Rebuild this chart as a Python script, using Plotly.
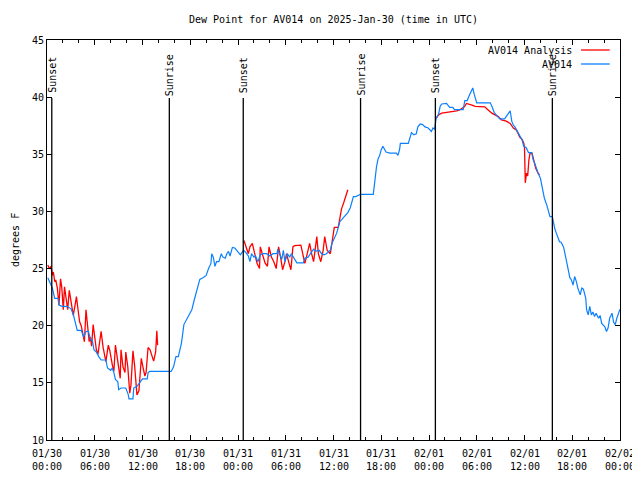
import pandas as pd
import plotly.graph_objects as go

BASE = pd.Timestamp("2025-01-30 00:00")

# AV014 observed (hours after 01/30 00:00 UTC, degrees F)
blue_hours = [0.1, 0.45, 0.67, 0.97, 1.4, 1.5, 1.9, 2.5, 3.0, 3.3, 3.5, 3.8, 4.3, 4.6, 4.9, 5.2, 5.5, 5.7, 5.9, 6.2,
              6.5, 6.8, 7.4, 7.6, 8.0, 8.2, 8.4, 8.6, 8.9, 9.0, 9.3, 9.9, 10.2, 10.3, 10.8, 10.9, 11.3, 11.6, 12.0, 12.6,
              12.7, 12.9, 15.6, 15.9, 16.2, 16.5, 16.9, 17.2, 17.5, 18.0, 18.2, 18.5, 18.8, 19.2, 19.6, 20.0, 20.3, 20.6, 20.7, 20.9,
              21.1, 21.3, 21.6, 21.9, 22.1, 22.4, 22.6, 22.8, 23.0, 23.3, 23.6, 24.0, 24.3, 24.7, 25.0, 25.3, 25.5, 25.7, 26.0, 26.2,
              26.5, 26.8, 27.1, 27.6, 28.0, 28.4, 28.9, 29.0, 29.2, 29.5, 29.7, 29.9, 30.2, 30.5, 30.7, 31.0, 31.4, 32.2, 32.4, 32.8,
              33.3, 33.5, 33.8, 34.2, 34.5, 34.8, 35.1, 35.6, 35.8, 36.1, 36.4, 36.6, 36.8, 37.3, 37.8, 38.1, 38.5, 38.8, 39.4, 41.0,
              41.2, 41.4, 41.6, 41.8, 42.0, 42.2, 42.6, 43.1, 43.9, 44.1, 44.3, 44.4, 45.4, 45.6, 45.8, 46.1, 46.4, 46.6, 46.9, 47.2,
              47.5, 47.9, 48.3, 48.5, 48.7, 48.9, 49.2, 49.4, 49.6, 50.2, 50.6, 51.0, 51.2, 51.9, 52.3, 52.5, 52.8, 53.1, 53.5, 53.7,
              54.0, 54.6, 55.2, 55.7, 55.9, 56.2, 56.5, 56.9, 57.5, 58.0, 58.2, 58.4, 58.6, 58.8, 59.0, 59.3, 59.5, 59.7, 59.9, 60.2,
              60.5, 60.9, 61.1, 61.3, 61.5, 61.7, 62.0, 62.2, 62.3, 62.5, 62.8, 63.0, 63.2, 63.5, 63.6, 63.8, 64.0, 64.2, 64.4, 64.6,
              64.9, 65.0, 65.2, 65.4, 65.5, 65.7, 65.9, 66.1, 66.3, 66.5, 66.7, 67.0, 67.2, 67.4, 67.7, 67.8, 68.0, 68.2, 68.4, 68.6,
              68.8, 69.0, 69.3, 69.5, 69.7, 70.1, 70.3, 70.5, 70.7, 71.0, 71.2, 71.4, 71.6, 71.8, 72.0]
blue_values = [24.2, 23.6, 23.3, 22.4, 22.4, 21.8, 21.7, 21.7, 21.5, 21.0, 20.5, 19.6, 19.6, 19.0, 19.5, 19.5, 18.75, 18.7, 17.9, 17.7,
               17.3, 17.0, 17.0, 16.3, 16.1, 16.3, 15.9, 15.3, 15.1, 14.4, 14.55, 14.55, 14.0, 13.6, 13.6, 14.55, 14.7, 15.0, 15.35, 15.35,
               15.9, 16.0, 16.0, 16.4, 17.3, 17.3, 18.5, 20.1, 20.5, 21.1, 21.4, 22.25, 23.1, 24.05, 24.2, 24.4, 25.0, 25.45, 26.3, 26.0,
               25.2, 25.6, 25.6, 26.3, 26.0, 25.9, 26.3, 26.5, 26.1, 26.85, 26.8, 26.5, 26.2, 26.6, 26.4, 26.1, 25.6, 26.3, 26.0, 26.1,
               25.6, 26.2, 26.3, 26.3, 26.1, 26.3, 26.3, 26.7, 26.3, 25.8, 26.6, 25.6, 26.3, 26.0, 26.3, 25.9, 25.5, 25.5, 25.9, 26.0,
               26.5, 26.7, 26.5, 26.6, 26.3, 26.2, 26.3, 26.6, 27.2, 27.65, 28.1, 28.6, 29.1, 29.5, 29.9, 30.3, 31.3, 31.3, 31.5, 31.5,
               32.75, 33.9, 34.6, 34.9, 35.4, 35.7, 35.2, 35.1, 35.1, 34.9, 35.4, 35.95, 35.95, 36.55, 36.9, 36.7, 36.8, 37.4, 37.65, 37.6,
               37.4, 37.3, 37.0, 37.3, 37.2, 38.15, 38.5, 39.2, 39.4, 39.45, 39.1, 39.1, 38.9, 38.9, 38.9, 39.7, 39.7, 40.2, 40.8, 40.2,
               39.5, 39.5, 39.5, 39.5, 39.2, 38.65, 38.4, 38.1, 38.1, 38.6, 38.8, 37.9, 37.55, 37.4, 37.1, 36.7, 36.5, 36.25, 35.7, 35.6,
               35.15, 35.15, 34.5, 34.2, 33.7, 33.35, 32.9, 32.2, 31.6, 31.15, 30.55, 30.0, 29.55, 29.55, 29.1, 28.5, 28.1, 27.8, 27.35, 27.3,
               26.9, 26.6, 25.9, 25.3, 24.9, 24.2, 24.0, 23.55, 24.3, 23.9, 23.3, 22.7, 23.3, 23.2, 22.4, 21.4, 20.95, 21.7, 20.95, 21.2,
               20.8, 21.1, 20.65, 20.9, 20.2, 19.9, 19.5, 19.8, 20.65, 21.1, 20.3, 20.1, 20.65, 21.1, 21.45]

# AV014 Analysis (None = gap)
red_hours = [0.1, 0.3, 0.5, 0.67, 0.8, 0.97, 1.1, 1.3, 1.5, 1.7, 1.85, 2.05, 2.2, 2.4, 2.6, 2.8, 3.05, 3.3, 3.5, 3.7,
             3.9, 4.1, 4.3, 4.6, 4.7, 4.9, 5.1, 5.3, 5.45, 5.6, 5.8, 6.0, 6.2, 6.4, 6.8, 7.05, 7.4, 7.7, 7.9, 8.2,
             8.4, 8.6, 8.9, 9.2, 9.3, 9.55, 9.8, 9.9, 10.15, 10.4, 10.55, 10.8, 11.0, 11.3, 11.55, 11.85, 12.05, 12.3, 12.45, 12.7,
             12.95, 13.1, 13.4, 13.65, 13.8, 13.9, 14.0,
             24.75, 25.0, 25.3, 25.5, 25.8, 26.1, 26.4, 26.7, 26.8, 27.05, 27.4, 27.7, 27.9, 28.2, 28.5, 28.8, 29.1, 29.35, 29.6, 29.9,
             30.1, 30.4, 30.65, 30.9, 31.1, 31.9, 32.1, 32.4, 32.7, 33.0, 33.25, 33.5, 33.9, 34.1, 34.4, 34.7, 34.9, 35.2, 35.6, 35.8,
             36.0, 36.1, 36.6, 36.8, 37.0, 37.3, 37.6, 37.8, 38.0,
             48.9, 49.2, 49.6, 50.2, 51.0, 51.5, 51.9, 52.5, 52.7, 53.1, 53.4, 53.8, 54.4, 55.0, 55.4, 55.9, 56.3, 56.7, 57.1, 57.7,
             58.2, 58.6, 59.0, 59.4, 59.7, 59.9, 60.0, 60.05, 60.1, 60.25, 60.4, 60.55, 60.7, 60.95, 61.2, 61.4, 61.7, 61.9]
red_values = [25.3, 25.0, 25.2, 24.4, 24.7, 23.85, 24.0, 23.3, 21.8, 24.1, 23.4, 21.4, 23.4, 22.4, 21.4, 23.1, 22.1, 20.9, 21.7, 22.55,
              21.4, 20.35, 20.0, 18.9, 18.6, 21.4, 19.9, 18.6, 19.0, 18.2, 20.1, 19.0, 17.9, 17.5, 19.5, 18.1, 16.85, 18.3, 17.8, 16.6,
              16.0, 18.3, 16.6, 15.4, 17.9, 16.4, 15.9, 17.7, 16.4, 14.1, 14.8, 17.8, 16.6, 13.95, 14.3, 17.15, 16.4, 15.6, 15.9, 18.1,
              17.9, 17.6, 16.9, 17.7, 19.55, 18.3, None,
              27.45, 26.9, 26.3, 26.9, 27.2, 26.3, 25.45, 25.0, 26.9, 26.3, 25.5, 25.2, 26.9, 26.0, 25.6, 25.0, 26.9, 26.0, 24.9, 25.6,
              26.3, 25.5, 24.9, 26.9, 27.0, 27.05, 26.3, 25.45, 26.3, 27.2, 26.3, 25.6, 27.8, 26.3, 25.6, 26.6, 27.8, 26.6, 26.3, 27.2,
              28.4, 28.6, 28.6, 29.3, 30.2, 30.8, 31.5, 31.9, None,
              38.15, 38.45, 38.6, 38.65, 38.7, 38.8, 38.9, 39.2, 39.45, 39.4, 39.3, 39.2, 39.15, 39.15, 38.9, 38.6, 38.45, 38.3, 38.0, 37.9,
              37.7, 37.3, 37.1, 36.5, 36.3, 36.0, 35.6, 34.2, 32.5, 33.35, 33.1, 34.5, 35.1, 35.1, 34.5, 33.8, 33.35, 33.2]

# Sun events (hours after base)
sun_labels = ["Sunset", "Sunrise", "Sunset", "Sunrise", "Sunset", "Sunrise"]
sun_hours = [0.6, 15.37, 24.66, 39.4, 48.8, 63.5]

tick_hours = [0, 6, 12, 18, 24, 30, 36, 42, 48, 54, 60, 66, 72]
tick_dates = ["01/30", "01/30", "01/30", "01/30", "01/31", "01/31", "01/31", "01/31",
              "02/01", "02/01", "02/01", "02/01", "02/02"]
tick_times = ["00:00", "06:00", "12:00", "18:00", "00:00", "06:00", "12:00", "18:00",
              "00:00", "06:00", "12:00", "18:00", "00:00"]
y_ticks = [10, 15, 20, 25, 30, 35, 40, 45]

series_names = ["AV014 Analysis", "AV014"]
series_colors = ["#ff0000", "#0a80ff"]


def to_time(hours):
    return [None if h is None else BASE + pd.Timedelta(hours=h) for h in hours]


red_x = to_time(red_hours)
red_x = [None if v is None else x for x, v in zip(red_x, red_values)]

FONT = "DejaVu Sans Mono"
TXT = dict(family=FONT, size=10, color="black")

fig = go.Figure()
fig.add_trace(go.Scatter(x=red_x, y=red_values, mode="lines", name=series_names[0],
                         line=dict(color=series_colors[0], width=1.3), connectgaps=False))
fig.add_trace(go.Scatter(x=to_time(blue_hours), y=blue_values, mode="lines", name=series_names[1],
                         line=dict(color=series_colors[1], width=1.2)))

shapes = []
annotations = []
line_top = 0.855
for lab, h in zip(sun_labels, sun_hours):
    t = BASE + pd.Timedelta(hours=h)
    shapes.append(dict(type="line", xref="x", yref="paper", x0=t, x1=t, y0=0, y1=line_top,
                       line=dict(color="black", width=1.3)))
    annotations.append(dict(x=t, xref="x", y=0.9125, yref="paper", text=lab, textangle=-90,
                            showarrow=False, xanchor="center", yanchor="middle", font=TXT))

# two-line x tick labels (gnuplot line spacing)
for t, d, hm in zip(to_time(tick_hours), tick_dates, tick_times):
    annotations.append(dict(x=t, xref="x", y=-0.0325, yref="paper", text=d, showarrow=False,
                            xanchor="center", yanchor="middle", font=TXT))
    annotations.append(dict(x=t, xref="x", y=-0.0675, yref="paper", text=hm, showarrow=False,
                            xanchor="center", yanchor="middle", font=TXT))

# gnuplot-style legend (text, then sample line to its right)
leg_y = [0.975, 0.94]
for name, col, yy in zip(series_names, series_colors, leg_y):
    annotations.append(dict(x=0.92, xref="paper", y=yy, yref="paper", text=name, showarrow=False,
                            xanchor="right", yanchor="middle", font=TXT))
    shapes.append(dict(type="line", xref="paper", yref="paper", x0=0.932, x1=0.982, y0=yy, y1=yy,
                       line=dict(color=col, width=1.3)))

annotations.append(dict(x=-0.0558, xref="paper", y=0.5, yref="paper", text="degrees F", textangle=-90,
                        showarrow=False, xanchor="center", yanchor="middle", font=TXT))

# page body has an 8px margin, so the figure is 632x472 and margins are offset
fig.update_layout(
    width=632, height=472,
    margin=dict(l=39, r=20, t=32, b=40, autoexpand=False),
    paper_bgcolor="white", plot_bgcolor="white",
    showlegend=False,
    title=dict(text="Dew Point for AV014 on 2025-Jan-30 (time in UTC)", x=0.5, xref="paper",
               xanchor="center", y=1 - 11 / 472, yref="container", yanchor="middle",
               font=TXT, automargin=False),
    font=TXT,
    shapes=shapes, annotations=annotations,
)
fig.update_xaxes(
    range=[BASE, BASE + pd.Timedelta(hours=72)],
    tickmode="array", tickvals=to_time(tick_hours), showticklabels=False,
    ticks="inside", ticklen=5, tickcolor="black", tickwidth=1,
    minor=dict(dtick=2 * 3600 * 1000, tick0=BASE, ticks="inside", ticklen=3, tickcolor="black", tickwidth=1),
    showline=True, linecolor="black", linewidth=1, mirror="ticks",
    showgrid=False, zeroline=False, automargin=False,
)
fig.update_yaxes(
    range=[10, 45], tickmode="array", tickvals=y_ticks,
    ticks="inside", ticklen=5, tickcolor="black", tickwidth=1,
    showline=True, linecolor="black", linewidth=1, mirror="ticks",
    showgrid=False, zeroline=False, automargin=False,
    tickfont=TXT,
)

fig.write_html("out.html")
